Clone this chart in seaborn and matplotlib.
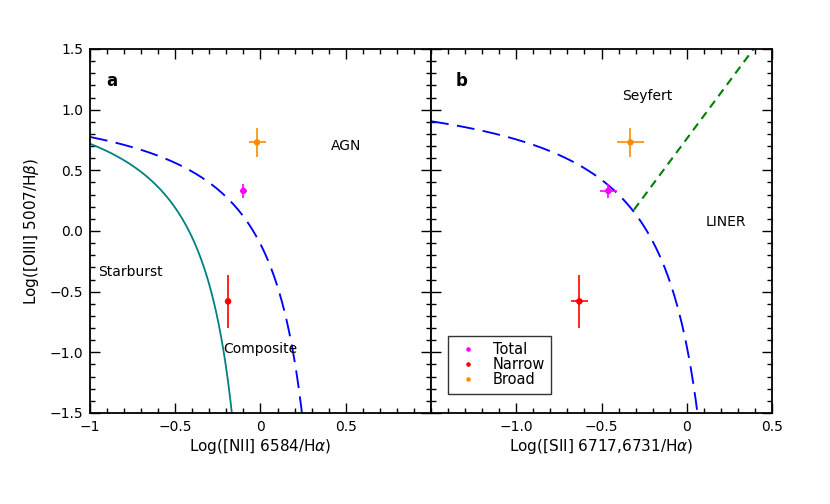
import numpy as np
import pandas as pd
import matplotlib
matplotlib.use("Agg")
import matplotlib.pyplot as plt
import seaborn as sns
from matplotlib.ticker import MultipleLocator

components = ["Total", "Narrow", "Broad"]
colors = ["#ff00ff", "#ff0000", "#ff8c00"]

oiii_hb = [0.33, -0.58, 0.73]
oiii_hb_err = [0.06, 0.22, 0.12]

nii_ha = [-0.10, -0.19, -0.02]
nii_ha_err = [0.02, 0.0, 0.05]

sii_ha = [-0.46, -0.63, -0.33]
sii_ha_err = [0.05, 0.05, 0.08]

# demarcation lines (Kewley 2001/2006, Kauffmann 2003 coefficients)
kew_nii = (0.61, 0.47, 1.19)
kauf_nii = (0.61, 0.05, 1.30)
kew_sii = (0.72, 0.32, 1.30)
sey_liner = (1.89, 0.76)


def curve(coef, x):
    a, b, c = coef
    return a / (x - b) + c


sns.set_theme(style="ticks")
plt.rcParams["font.family"] = ["DejaVu Sans"]
plt.rcParams.update({
    "font.size": 10, "axes.labelsize": 11, "xtick.labelsize": 10, "ytick.labelsize": 10,
    "legend.fontsize": 10.5, "axes.linewidth": 1.3,
    "text.color": "black", "axes.labelcolor": "black",
    "xtick.color": "black", "ytick.color": "black",
})

fig = plt.figure(figsize=(8.3, 5.04), dpi=100)
ax_a = fig.add_axes([0.1084, 0.1806, 0.4108, 0.7222])
ax_b = fig.add_axes([0.5193, 0.1806, 0.4108, 0.7222])

pts = pd.DataFrame({"comp": components, "nii": nii_ha, "sii": sii_ha, "oiii": oiii_hb})
pal = dict(zip(components, colors))
blue_dash = (0, (9.5, 4.5))
green_dash = (0, (4.0, 2.8))

# Panel a
x = np.linspace(-1.0, 0.4, 400)
y = curve(kew_nii, x)
m = y >= -1.6
sns.lineplot(x=x[m], y=y[m], ax=ax_a, color="#0000ff", lw=1.35, sort=False,
             linestyle=blue_dash)
y2 = curve(kauf_nii, x)
m2 = (y2 >= -1.6) & (x < 0.05)
sns.lineplot(x=x[m2], y=y2[m2], ax=ax_a, color="#008080", lw=1.3, sort=False)

for i, c in enumerate(components):
    ax_a.errorbar(nii_ha[i], oiii_hb[i], xerr=nii_ha_err[i], yerr=oiii_hb_err[i],
                  color=colors[i], lw=1.2, capsize=0)
sns.scatterplot(data=pts, x="nii", y="oiii", hue="comp", palette=pal, s=22,
                edgecolor="none", ax=ax_a, legend=False, zorder=5)

ax_a.set_xlim(-1.0, 1.0)
ax_a.set_ylim(-1.5, 1.5)
ax_a.set_xticks([-1, -0.5, 0, 0.5])
ax_a.set_xticklabels(["\u22121", "\u22120.5", "0", "0.5"])
ax_a.set_yticks([-1.5, -1.0, -0.5, 0.0, 0.5, 1.0, 1.5])
ax_a.set_yticklabels(["\u22121.5", "\u22121.0", "\u22120.5", "0.0", "0.5", "1.0", "1.5"])
ax_a.set_xlabel("Log([NII] 6584/H$\\alpha$)", labelpad=2)
ax_a.set_ylabel("Log([OIII] 5007/H$\\beta$)", labelpad=6)

ax_a.text(-0.87, 1.24, "a", fontsize=12, fontweight="bold", ha="center", va="center")
ax_a.text(0.5, 0.7, "AGN", ha="center", va="center")
ax_a.text(-0.76, -0.34, "Starburst", ha="center", va="center")
ax_a.text(0.0, -0.97, "Composite", ha="center", va="center")

# Panel b
xs = np.linspace(-1.5, 0.3, 400)
ys = curve(kew_sii, xs)
ms = ys >= -1.6
sns.lineplot(x=xs[ms], y=ys[ms], ax=ax_b, color="#0000ff", lw=1.35, sort=False,
             linestyle=blue_dash)
xl = np.array([-0.31, 0.40])
sns.lineplot(x=xl, y=sey_liner[0] * xl + sey_liner[1], ax=ax_b, color="#008000",
             lw=1.5, linestyle=green_dash)

for i, c in enumerate(components):
    ax_b.errorbar(sii_ha[i], oiii_hb[i], xerr=sii_ha_err[i], yerr=oiii_hb_err[i],
                  color=colors[i], lw=1.2, capsize=0)
sns.scatterplot(data=pts, x="sii", y="oiii", hue="comp", palette=pal, s=22,
                edgecolor="none", ax=ax_b, zorder=5)

ax_b.set_xlim(-1.5, 0.5)
ax_b.set_ylim(-1.5, 1.5)
ax_b.set_xticks([-1.0, -0.5, 0, 0.5])
ax_b.set_xticklabels(["\u22121.0", "\u22120.5", "0", "0.5"])
ax_b.set_yticks([-1.5, -1.0, -0.5, 0.0, 0.5, 1.0, 1.5])
ax_b.set_yticklabels([])
ax_b.set_xlabel("Log([SII] 6717,6731/H$\\alpha$)", labelpad=2)
ax_b.set_ylabel("")

ax_b.text(-1.32, 1.24, "b", fontsize=12, fontweight="bold", ha="center", va="center")
ax_b.text(-0.23, 1.11, "Seyfert", ha="center", va="center")
ax_b.text(0.23, 0.07, "LINER", ha="center", va="center")

leg = ax_b.legend(loc="lower left", bbox_to_anchor=(0.05, 0.052), borderaxespad=0,
                  frameon=True, fancybox=False, edgecolor="black", handletextpad=0.8,
                  handlelength=1.8, labelspacing=0.0, borderpad=0.45, markerscale=0.7)
leg.get_frame().set_linewidth(1.0)

for ax in (ax_a, ax_b):
    ax.xaxis.set_minor_locator(MultipleLocator(0.1))
    ax.yaxis.set_minor_locator(MultipleLocator(0.1))
    ax.tick_params(which="both", direction="in", top=True, right=True, color="black")
    ax.tick_params(which="major", length=7, width=1.0, pad=5)
    ax.tick_params(which="minor", length=3.5, width=1.0)
    for s in ax.spines.values():
        s.set_color("black")

fig.savefig("out.png", dpi=100)
